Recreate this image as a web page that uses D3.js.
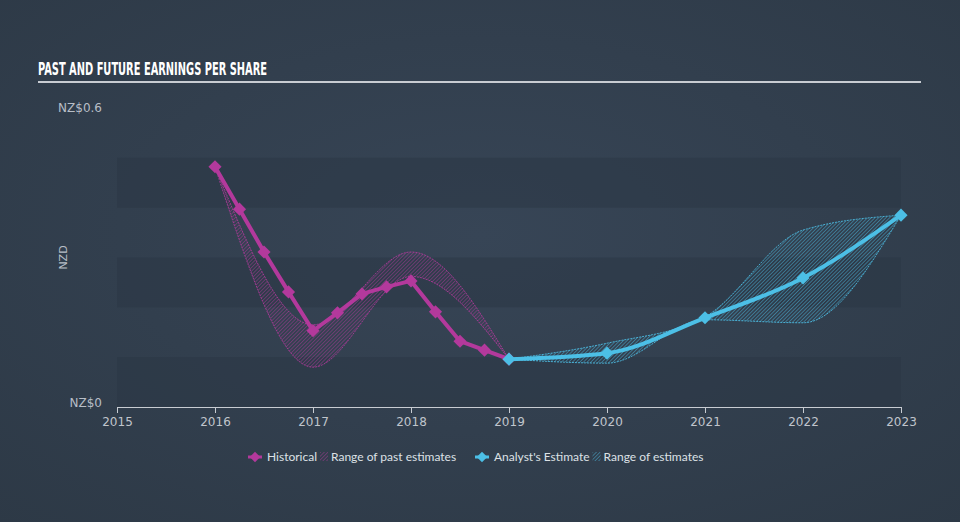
<!DOCTYPE html>
<html lang="en">
<head>
    <meta charset="UTF-8">
    <title>eps</title>
    <script src="https://d3js.org/d3.v7.min.js"></script>
    <style>
        html, body {
            padding: 0;
            margin: 0;
            background-color: #333f4f;
        }
        svg {
            display: block;
        }
    </style>
</head>
<body>
<script>
    // историческая прибыль на акцию (поквартально)
    const histDates = [2016, 2016.25, 2016.5, 2016.75, 2017, 2017.25, 2017.5, 2017.75, 2018, 2018.25, 2018.5, 2018.75, 2019];
    const histValues = [0.482, 0.397, 0.311, 0.231, 0.153, 0.189, 0.227, 0.241, 0.253, 0.191, 0.132, 0.114, 0.096];

    // диапазон прошлых оценок
    const pastRangeYears = [2016, 2017, 2018, 2019];
    const pastRangeLow = [0.482, 0.080, 0.262, 0.096];
    const pastRangeHigh = [0.482, 0.165, 0.311, 0.096];

    // оценки аналитиков
    const futureYears = [2019, 2020, 2021, 2022, 2023];
    const futureValues = [0.096, 0.108, 0.179, 0.259, 0.385];
    const futureLow = [0.096, 0.088, 0.175, 0.169, 0.385];
    const futureHigh = [0.096, 0.128, 0.181, 0.355, 0.385];

    const xTicks = [2015, 2016, 2017, 2018, 2019, 2020, 2021, 2022, 2023];
    const bandStarts = [0, 0.2, 0.4];

    const width = 960;
    const height = 522;
    const purple = "#b3399c";
    const cyan = "#4cbfe6";

    const svg = d3.select("body")
        .append("svg")
        .attr("width", width)
        .attr("height", height);

    const defs = svg.append("defs");

    const grad = defs.append("radialGradient")
        .attr("id", "bg")
        .attr("cx", "50%").attr("cy", "45%").attr("r", "75%");
    grad.append("stop").attr("offset", "0%").attr("stop-color", "#374556");
    grad.append("stop").attr("offset", "100%").attr("stop-color", "#2d3946");

    svg.append("rect")
        .attr("width", width)
        .attr("height", height)
        .attr("fill", "url(#bg)");

    // штриховка для диапазонов
    const hatch = (id, color) => {
        const p = defs.append("pattern")
            .attr("id", id)
            .attr("patternUnits", "userSpaceOnUse")
            .attr("width", 2.6)
            .attr("height", 2.6)
            .attr("patternTransform", "rotate(45)");
        p.append("line")
            .attr("x1", 0).attr("y1", 0)
            .attr("x2", 0).attr("y2", 2.6)
            .attr("stroke", color)
            .attr("stroke-width", 1)
            .attr("stroke-opacity", 0.85);
    };
    hatch("hatchPast", purple);
    hatch("hatchFuture", cyan);

    const x = d3.scaleLinear()
        .domain([2015, 2023])
        .range([117, 901]);

    const y = d3.scaleLinear()
        .domain([0, 0.6])
        .range([407, 108]);

    // полосы фона
    svg.append("g")
        .selectAll("rect")
        .data(bandStarts)
        .join("rect")
        .attr("x", x(2015))
        .attr("width", x(2023) - x(2015))
        .attr("y", d => y(d + 0.1))
        .attr("height", d => y(d) - y(d + 0.1))
        .attr("fill", "#2a3543")
        .attr("fill-opacity", 0.5);

    // заголовок
    svg.append("text")
        .attr("x", 38)
        .attr("y", 75)
        .attr("textLength", 229)
        .attr("lengthAdjust", "spacingAndGlyphs")
        .style("font", "bold 18px 'DejaVu Sans Condensed', 'Liberation Sans Narrow', sans-serif")
        .style("fill", "#ffffff")
        .text("PAST AND FUTURE EARNINGS PER SHARE");

    svg.append("line")
        .attr("x1", 38).attr("x2", 921)
        .attr("y1", 82).attr("y2", 82)
        .attr("stroke", "#c8ccd2")
        .attr("stroke-width", 2);

    // подписи оси Y
    const yLabels = svg.append("g")
        .style("font", "12px 'DejaVu Sans', sans-serif")
        .style("fill", "#b8bec7")
        .attr("text-anchor", "end");
    yLabels.append("text").attr("x", 102).attr("y", y(0.6) + 4).text("NZ$0.6");
    yLabels.append("text").attr("x", 102).attr("y", y(0) + 0).text("NZ$0");

    svg.append("text")
        .attr("transform", `translate(67, ${y(0.3)}) rotate(-90)`)
        .attr("text-anchor", "middle")
        .style("font", "11px 'DejaVu Sans', sans-serif")
        .style("fill", "#b8bec7")
        .text("NZD");

    // ось X
    const xAxis = svg.append("g")
        .attr("transform", `translate(0, ${y(0)})`)
        .call(d3.axisBottom(x).tickValues(xTicks).tickFormat(d3.format("d")).tickSize(6).tickSizeOuter(0));
    xAxis.select(".domain").attr("stroke", "#c8ccd2");
    xAxis.selectAll(".tick line").attr("stroke", "#c8ccd2");
    xAxis.selectAll(".tick text")
        .attr("dy", "0.85em")
        .style("font", "12px 'DejaVu Sans', sans-serif")
        .style("fill", "#c0c5cc");

    // диапазоны
    const area = d3.area()
        .x(d => x(d.t))
        .y0(d => y(d.lo))
        .y1(d => y(d.hi))
        .curve(d3.curveMonotoneX);

    const edge = d3.line()
        .x(d => x(d.t))
        .y(d => y(d.v))
        .curve(d3.curveMonotoneX);

    const drawRange = (years, lo, hi, fillId, color) => {
        const pts = years.map((t, i) => ({t, lo: lo[i], hi: hi[i]}));
        svg.append("path")
            .datum(pts)
            .attr("d", area)
            .attr("fill", `url(#${fillId})`);
        [lo, hi].forEach(arr => {
            svg.append("path")
                .datum(years.map((t, i) => ({t, v: arr[i]})))
                .attr("d", edge)
                .attr("fill", "none")
                .attr("stroke", color)
                .attr("stroke-width", 1)
                .attr("stroke-dasharray", "2,1")
                .attr("stroke-opacity", 0.85);
        });
    };

    drawRange(pastRangeYears, pastRangeLow, pastRangeHigh, "hatchPast", purple);
    drawRange(futureYears, futureLow, futureHigh, "hatchFuture", cyan);

    const diamond = d3.symbol().type(d3.symbolDiamond2).size(110);

    // историческая линия
    const histPts = histDates.map((t, i) => ({t, v: histValues[i]}));
    svg.append("path")
        .datum(histPts)
        .attr("d", d3.line().x(d => x(d.t)).y(d => y(d.v)))
        .attr("fill", "none")
        .attr("stroke", purple)
        .attr("stroke-width", 4)
        .attr("stroke-linejoin", "round");
    svg.append("g")
        .selectAll("path")
        .data(histPts)
        .join("path")
        .attr("d", diamond)
        .attr("transform", d => `translate(${x(d.t)},${y(d.v)})`)
        .attr("fill", purple);

    // оценка аналитиков
    const futPts = futureYears.map((t, i) => ({t, v: futureValues[i]}));
    svg.append("path")
        .datum(futPts)
        .attr("d", edge)
        .attr("fill", "none")
        .attr("stroke", cyan)
        .attr("stroke-width", 4);
    svg.append("g")
        .selectAll("path")
        .data(futPts)
        .join("path")
        .attr("d", diamond)
        .attr("transform", d => `translate(${x(d.t)},${y(d.v)})`)
        .attr("fill", cyan);

    // легенда
    const legend = svg.append("g")
        .style("font", "12px Lato, 'Open Sans', sans-serif")
        .style("fill", "#dde1e6");

    const legendItem = (lx, color, label, hatchId, rangeLabel) => {
        legend.append("line")
            .attr("x1", lx).attr("x2", lx + 14)
            .attr("y1", 457).attr("y2", 457)
            .attr("stroke", color).attr("stroke-width", 3);
        legend.append("path")
            .attr("d", d3.symbol().type(d3.symbolDiamond2).size(70))
            .attr("transform", `translate(${lx + 7},457)`)
            .attr("fill", color);
        const t = legend.append("text")
            .attr("x", lx + 19)
            .attr("y", 461)
            .text(label);
        const w = t.node().getComputedTextLength();
        legend.append("rect")
            .attr("x", lx + 22 + w)
            .attr("y", 452)
            .attr("width", 8)
            .attr("height", 9)
            .attr("fill", `url(#${hatchId})`);
        legend.append("text")
            .attr("x", lx + 33 + w)
            .attr("y", 461)
            .text(rangeLabel);
    };

    legendItem(248, purple, "Historical", "hatchPast", "Range of past estimates");
    legendItem(475, cyan, "Analyst's Estimate", "hatchFuture", "Range of estimates");
</script>
</body>
</html>
